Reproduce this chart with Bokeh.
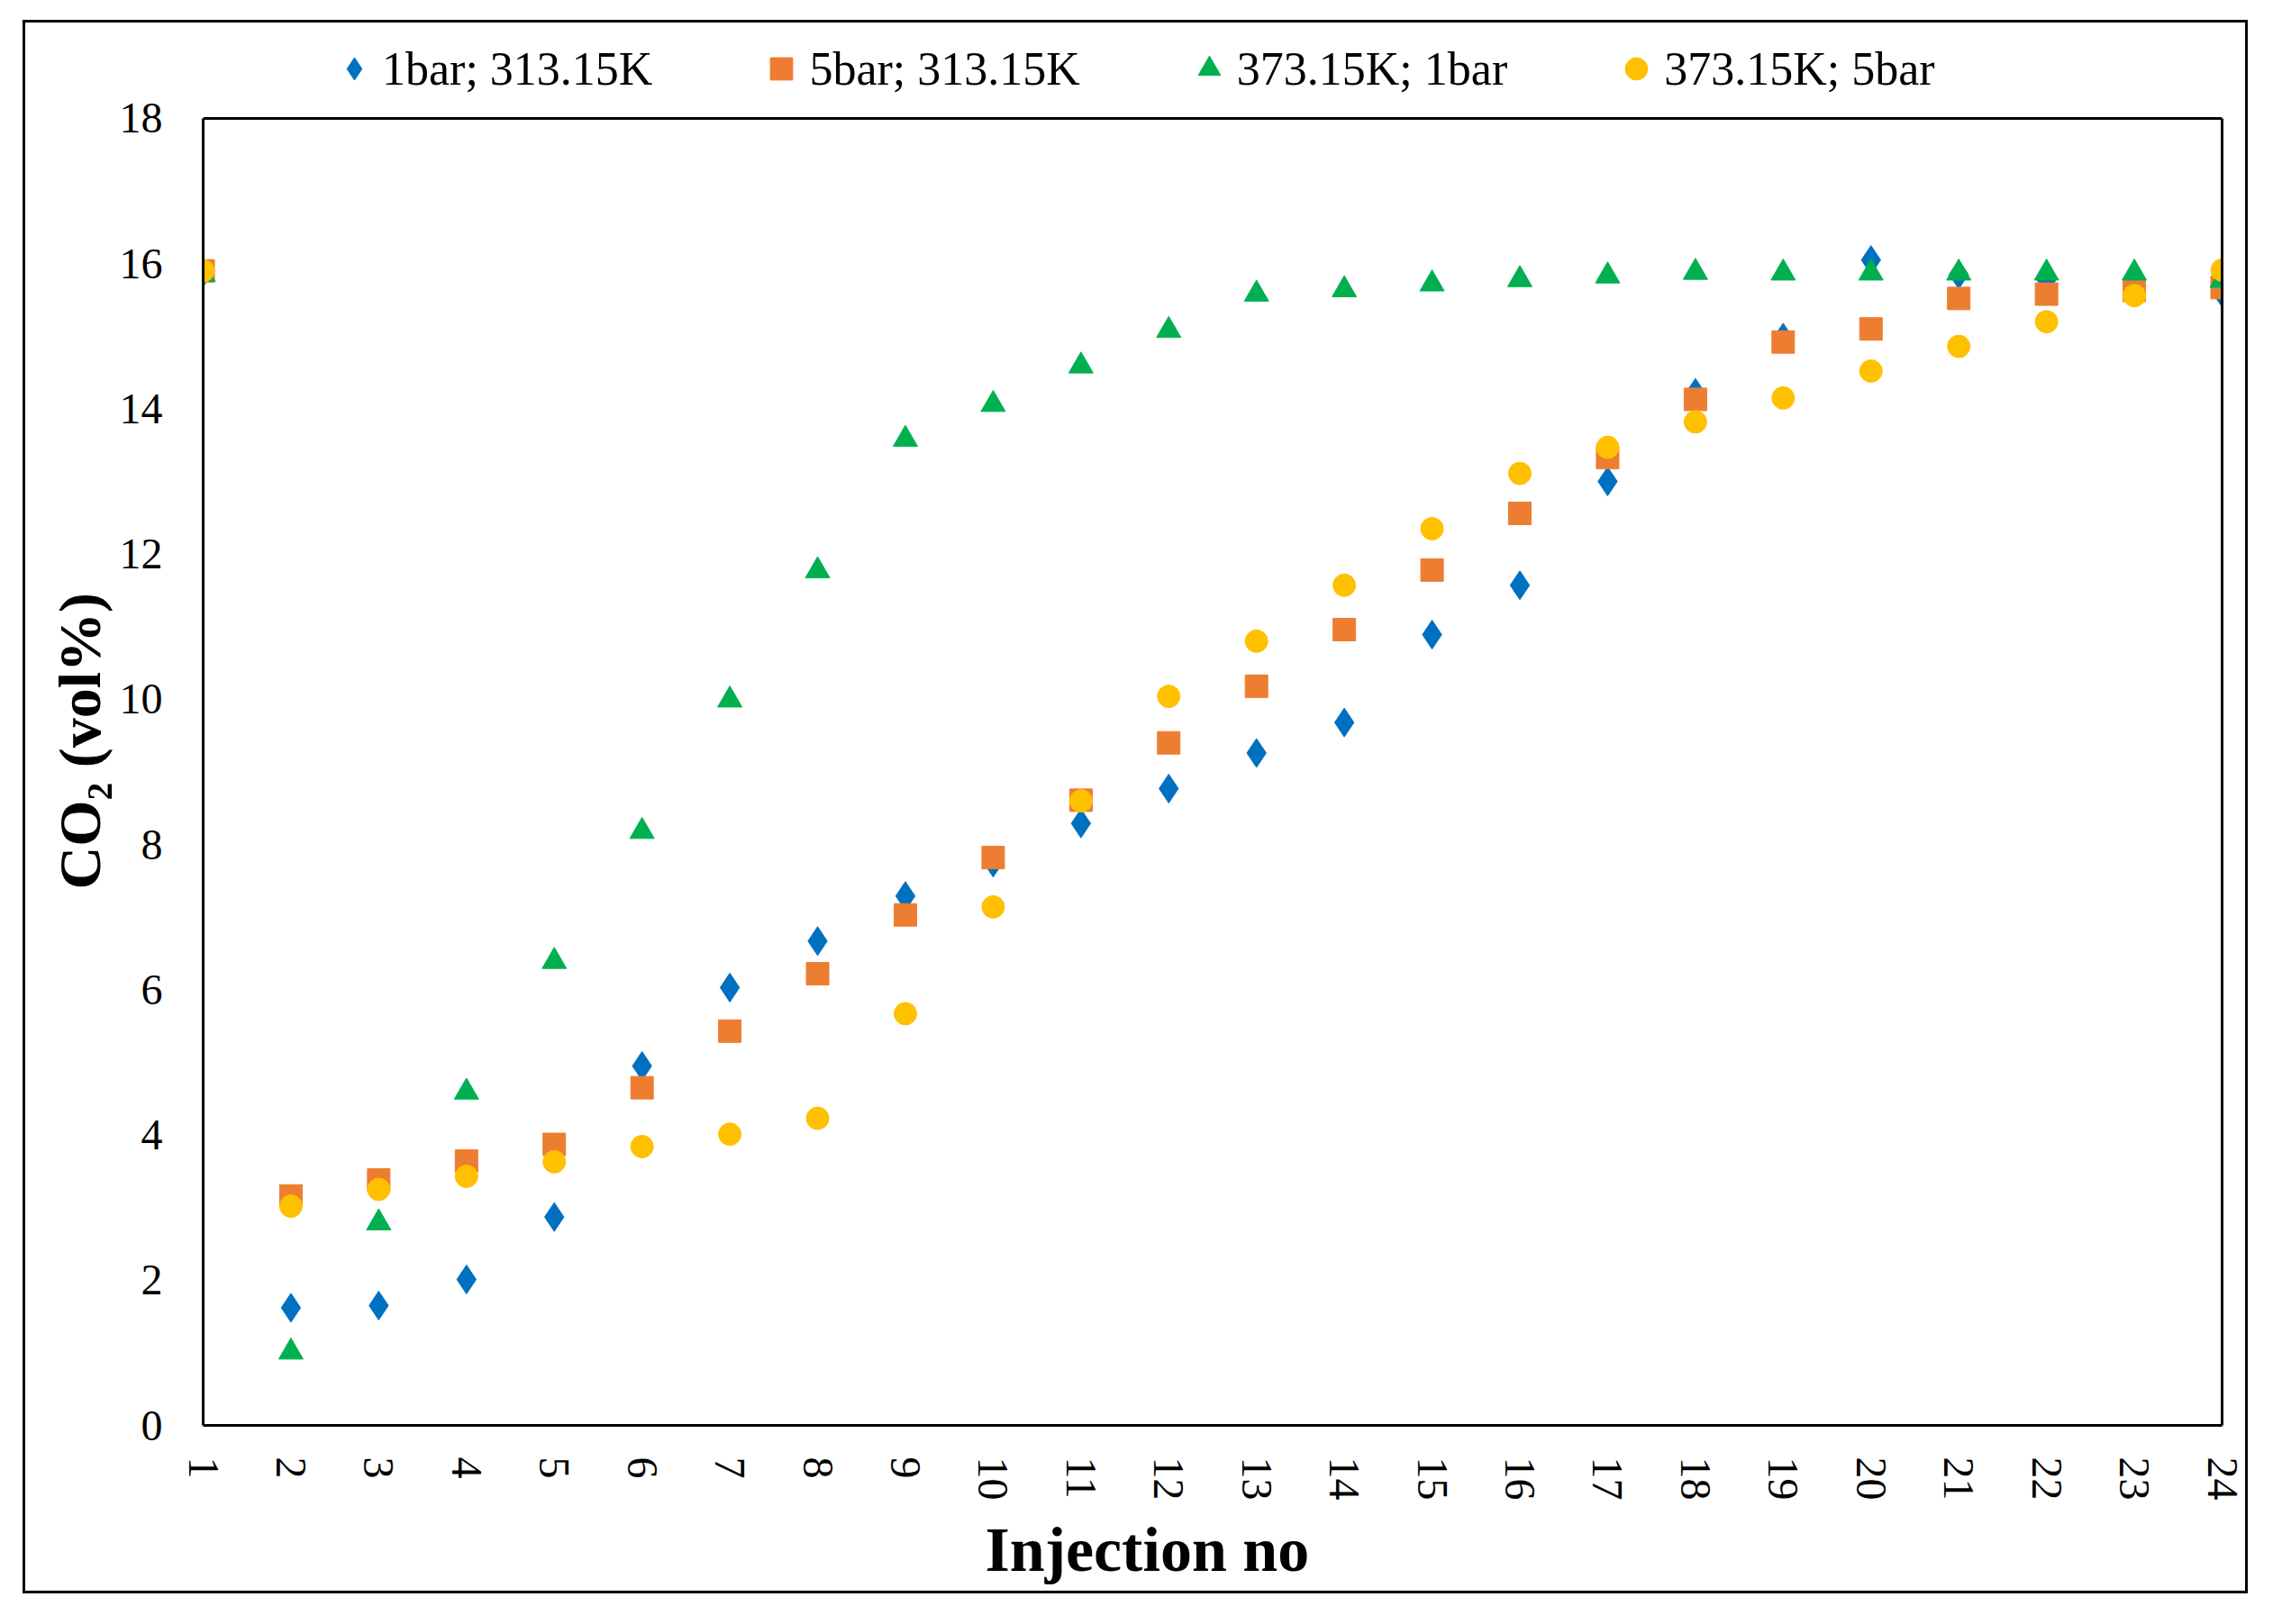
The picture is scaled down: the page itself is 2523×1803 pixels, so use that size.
from bokeh.plotting import figure
from bokeh.models import Range1d, FixedTicker, Legend, LegendItem, LinearAxis, Span, Title
from bokeh.embed import file_html
from bokeh.resources import INLINE

injection = list(range(1, 25))
y_ticks = [0, 2, 4, 6, 8, 10, 12, 14, 16, 18]

co2_1bar_313 = [15.88, 1.62, 1.65, 2.01, 2.87, 4.95, 6.03, 6.67, 7.29, 7.75, 8.29, 8.77,
                9.26, 9.68, 10.89, 11.57, 13.0, 14.22, 14.98, 16.05, 15.85, 15.78, 15.7, 15.6]
co2_5bar_313 = [15.9, 3.16, 3.38, 3.64, 3.87, 4.65, 5.43, 6.22, 7.03, 7.82, 8.61, 9.4,
                10.18, 10.96, 11.78, 12.56, 13.33, 14.13, 14.92, 15.1, 15.52, 15.58, 15.63, 15.67]
co2_373_1bar = [15.85, 1.01, 2.79, 4.59, 6.39, 8.18, 9.99, 11.77, 13.58, 14.06, 14.59, 15.08,
                15.58, 15.64, 15.72, 15.78, 15.83, 15.88, 15.87, 15.87, 15.87, 15.87, 15.87, 15.77]
co2_373_5bar = [15.9, 3.02, 3.25, 3.43, 3.63, 3.84, 4.01, 4.23, 5.67, 7.14, 8.6, 10.04,
                10.8, 11.57, 12.35, 13.11, 13.47, 13.82, 14.15, 14.52, 14.86, 15.2, 15.56, 15.91]

labels = ["1bar; 313.15K", "5bar; 313.15K", "373.15K; 1bar", "373.15K; 5bar"]
colors = ["#0070C0", "#ED7D31", "#00B050", "#FFC000"]
x_title = "Injection no"
y_title = "CO\u2082 (vol%)"

FONT = "Liberation Serif"
Y_MIN, Y_MAX = 0, 18
Y_VIEW_TOP = 19.19   # extra room above the plot box for the legend row

p = figure(width=2470, height=1747, title=None,
           x_range=Range1d(1, 24), y_range=Range1d(Y_MIN, Y_VIEW_TOP),
           output_backend="svg", toolbar_location=None,
           min_border_left=197, min_border_right=32,
           min_border_top=10, min_border_bottom=190)
p.styles = {"border": "3px solid black", "margin-left": "25px", "margin-top": "22px"}

p.xgrid.visible = False
p.ygrid.visible = False
p.outline_line_color = None
p.background_fill_color = "white"
p.border_fill_color = "white"

for ax in (p.xaxis[0], p.yaxis[0]):
    ax.major_tick_in = 0
    ax.major_tick_out = 0
    ax.minor_tick_in = 0
    ax.minor_tick_out = 0
    ax.minor_tick_line_color = None
    ax.major_tick_line_color = None
    ax.axis_line_color = "black"
    ax.axis_line_width = 3
    ax.major_label_text_font = FONT
    ax.major_label_text_font_size = "48px"
    ax.major_label_text_color = "black"

p.xaxis.ticker = FixedTicker(ticks=injection)
p.xaxis.major_label_orientation = "vertical"
p.xaxis.major_label_standoff = 35

p.yaxis.ticker = FixedTicker(ticks=y_ticks)
p.yaxis.bounds = (Y_MIN, Y_MAX)
p.yaxis.major_label_standoff = 45

# axis titles (placed like the original, which centres them on the chart area)
p.add_layout(Title(text=x_title, align="left", offset=868, standoff=22,
                   text_font=FONT, text_font_size="70px", text_font_style="bold",
                   text_color="black"), "below")
p.add_layout(Title(text=y_title, align="left", offset=595, standoff=10,
                   text_font=FONT, text_font_size="66px", text_font_style="bold",
                   text_color="black"), "left")

# right and top edges of the plot box
right_edge = LinearAxis(ticker=FixedTicker(ticks=[]), bounds=(Y_MIN, Y_MAX),
                        axis_line_color="black", axis_line_width=3,
                        major_tick_out=0, major_tick_in=0,
                        minor_tick_out=0, minor_tick_in=0,
                        major_label_text_font_size="0px")
p.add_layout(right_edge, "right")
p.add_layout(Span(location=Y_MAX, dimension="width", line_color="black", line_width=3))

r1 = p.scatter(injection, co2_1bar_313, marker="diamond", size=32,
               fill_color=colors[0], line_color=colors[0])
r2 = p.scatter(injection, co2_5bar_313, marker="square", size=25,
               fill_color=colors[1], line_color=colors[1])
r3 = p.scatter(injection, co2_373_1bar, marker="triangle", size=27,
               fill_color=colors[2], line_color=colors[2])
r4 = p.scatter(injection, co2_373_5bar, marker="circle", size=25,
               fill_color=colors[3], line_color=colors[3])

legend = Legend(items=[LegendItem(label=labels[0], renderers=[r1]),
                       LegendItem(label=labels[1], renderers=[r2]),
                       LegendItem(label=labels[2], renderers=[r3]),
                       LegendItem(label=labels[3], renderers=[r4])],
                orientation="horizontal", location=(137, 1475),
                glyph_width=62, glyph_height=62, label_standoff=0,
                spacing=112, padding=0, margin=0,
                border_line_color=None, background_fill_alpha=0,
                label_text_font=FONT, label_text_font_size="52px",
                label_text_color="black")
p.add_layout(legend)

open("out.html", "w").write(file_html(p, INLINE))
